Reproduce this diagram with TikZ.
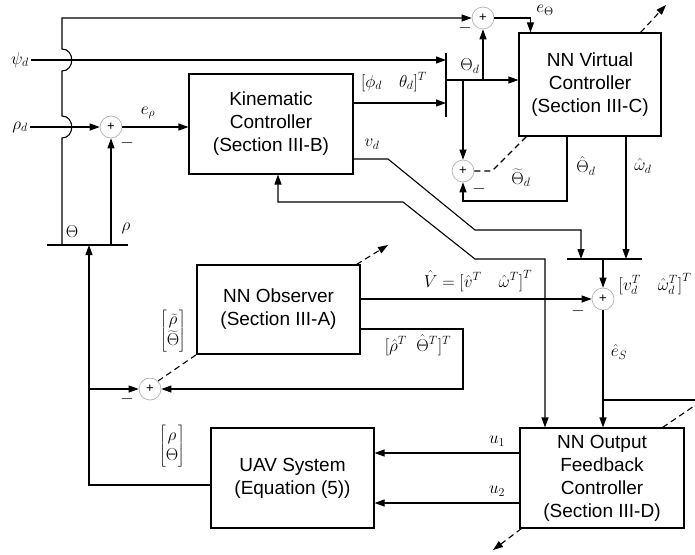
\documentclass[tikz,border=0pt]{standalone}
\usepackage{fontspec}
\setmainfont{Liberation Sans}
\usetikzlibrary{arrows.meta}
\newcommand{\blkfont}{\fontsize{19}{23}\selectfont}
\begin{document}
\begin{tikzpicture}[x=1pt,y=-1pt,>={Triangle[length=10pt,width=7pt]},
    blk/.style={draw,line width=1.1pt,align=center,font=\blkfont,inner sep=0pt},
    sum/.style={circle,draw=gray!60,line width=0.7pt,minimum size=22pt,inner sep=0pt,font=\fontsize{13}{13}\selectfont},
    sig/.style={line width=1.1pt},
    bus/.style={line width=2pt},
    adapt/.style={line width=1.1pt,dash pattern=on 6pt off 4pt},
    lbl/.style={font=\fontsize{17}{20}\selectfont,inner sep=2pt},
    minus/.style={font=\fontsize{17}{17}\selectfont,inner sep=0pt}]
    \useasboundingbox (0,0) rectangle (695,554);
    % blocks
    \node[blk,minimum width=164pt,minimum height=100pt] (kin) at (271,124) {Kinematic\\Controller\\(Section III-B)};
    \node[blk,minimum width=142pt,minimum height=103pt] (nnv) at (590,84.5) {NN Virtual\\Controller\\(Section III-C)};
    \node[blk,minimum width=163pt,minimum height=89pt] (obs) at (278.5,309.5) {NN Observer\\(Section III-A)};
    \node[blk,minimum width=163pt,minimum height=100pt] (uav) at (292.5,478) {UAV System\\(Equation (5))};
    \node[blk,minimum width=164pt,minimum height=100pt] (nno) at (602,478) {NN Output\\Feedback\\Controller\\(Section III-D)};
    % summing junctions
    \node[sum] (s1) at (483,18) {+};
    \node[sum] (s2) at (111,127) {+};
    \node[sum] (s3) at (463,171) {+};
    \node[sum] (s4) at (603,299) {+};
    \node[sum] (s5) at (150,389) {+};
    % taps and buses
    \coordinate (th) at (62,245);
    \coordinate (rh) at (111,245);
    \coordinate (fb) at (89,245);
    \coordinate (bth) at (446,80);
    \coordinate (bvw) at (603,259);
    \draw[bus] (47,245) -- (128,245);
    \draw[bus] (446,53) -- (446,117);
    \draw[bus] (567,259) -- (642,259);
    % outer loop
    \draw[sig,->] (th) -- (62,138) .. controls (75,138) and (75,116) .. (62,116) -- (62,71)
        .. controls (75,71) and (75,49) .. (62,49) -- (62,18) -- (s1.west);
    \node[lbl] (psid) at (20,60) {$\psi_d$};
    \draw[sig,->] (psid.east) -- (psid.east -| bth);
    \node[lbl] (rhod) at (20,127) {$\rho_d$};
    \draw[sig,->] (rhod.east) -- (s2.west);
    \draw[sig,->] (s2.east) -- (s2.east -| kin.west);
    \node[lbl] (erho) at (148,113) {$e_\rho$};
    \draw[sig,->] (rh) -- (s2.south);
    \node[minus] at (127,143) {$-$};
    \node[lbl] at (72,232) {$\Theta$};
    \node[lbl] at (126,228) {$\rho$};
    % plant output
    \coordinate (uo) at (211,485);
    \draw[sig,->] (uo) -- (89,485) -- (fb);
    \node[lbl] at (172,446) {$\left[\begin{array}{@{}c@{}}\rho\\\Theta\end{array}\right]$};
    % observer error
    \draw[sig,->] (89,389) -- (s5.west);
    \node[minus] at (127,399) {$-$};
    \coordinate (oo) at (360,329);
    \draw[sig,->] (oo) -- (463,329) -- (463,389) -- (s5.east);
    \node[lbl] at (418,345) {$[\hat\rho^T\ \ \hat\Theta^T]^T$};
    \draw[adapt] (s5.north east) -- (obs.south west);
    \node[lbl] at (173,331) {$\left[\begin{array}{@{}c@{}}\widetilde\rho\\\widetilde\Theta\end{array}\right]$};
    \draw[adapt,->] ([xshift=-4pt]obs.north east) -- (388,245);
    \coordinate (vo) at (360,299);
    \draw[sig,->] (vo) -- (s4.west);
    \node[minus] at (578,311) {$-$};
    \node[lbl] at (478,281) {$\hat V=\bigl[\hat v^T\quad \hat\omega^T\bigr]^T$};
    % kinematic outputs
    \coordinate (ko1) at (353,103);
    \draw[sig,->] (ko1) -- (ko1 -| bth);
    \node[lbl] at (394,82) {$[\phi_d\quad\theta_d]^T$};
    \draw[sig,->] (bth) -- (bth -| nnv.west);
    \node[lbl] at (470,66) {$\Theta_d$};
    \draw[sig,->] (bth -| s1) -- (s1.south);
    \draw[sig,->] (bth -| s3) -- (s3.north);
    \draw[sig,->] (s1.east) -| ([xshift=12pt]nnv.north west);
    \node[lbl] at (545,10) {$e_\Theta$};
    \node[minus] at (465,28) {$-$};
    \draw[adapt,->] ([xshift=-21pt]nnv.north east) -- (666,5);
    % virtual controller outputs
    \draw[sig,->] ([xshift=-23pt]nnv.south) |- (463,201) -- (s3.south);
    \node[minus] at (479,189) {$-$};
    \node[lbl] at (586,166) {$\hat\Theta_d$};
    \draw[adapt] (s3.east) -- (492,171) -- ([xshift=8pt]nnv.south west);
    \node[lbl] at (521,178) {$\widetilde\Theta_d$};
    \draw[sig,->] ([xshift=36pt]nnv.south) -- ([xshift=36pt]nnv.south |- bvw);
    \node[lbl] at (643,166) {$\hat\omega_d$};
    \draw[sig,->] (bvw) -- (s4.north);
    \node[lbl] at (655,284) {$\bigl[v_d^T\quad\hat\omega_d^T\bigr]^T$};
    \coordinate (ko2) at (353,159);
    \draw[sig,->] (ko2) -- (388,159) -- (475,230) -- (581,230) -- (581,259);
    \node[lbl] at (372,144) {$v_d$};
    \draw[sig,<->] ([xshift=7pt]kin.south) -- (278,202) -- (403,202) -- (475,259) -- (545,259)
        -- ([xshift=-57pt]nno.north);
    % output feedback controller
    \draw[sig,->] (s4.south) -- (s4.south |- nno.north);
    \node[lbl] at (619,352) {$\hat e_S$};
    \coordinate (es) at (603,400);
    \draw[sig] (es) -- (695,400);
    \draw[adapt] ([xshift=-22pt]nno.north east) -- (700,402);
    \draw[adapt,->] ([xshift=2pt]nno.south west) -- (493,550);
    \draw[sig,->] (nno.west |- 0,453) -- (uav.east |- 0,453);
    \draw[sig,->] (nno.west |- 0,503) -- (uav.east |- 0,503);
    \node[lbl] at (497,441) {$u_1$};
    \node[lbl] at (497,491) {$u_2$};
\end{tikzpicture}
\end{document}
